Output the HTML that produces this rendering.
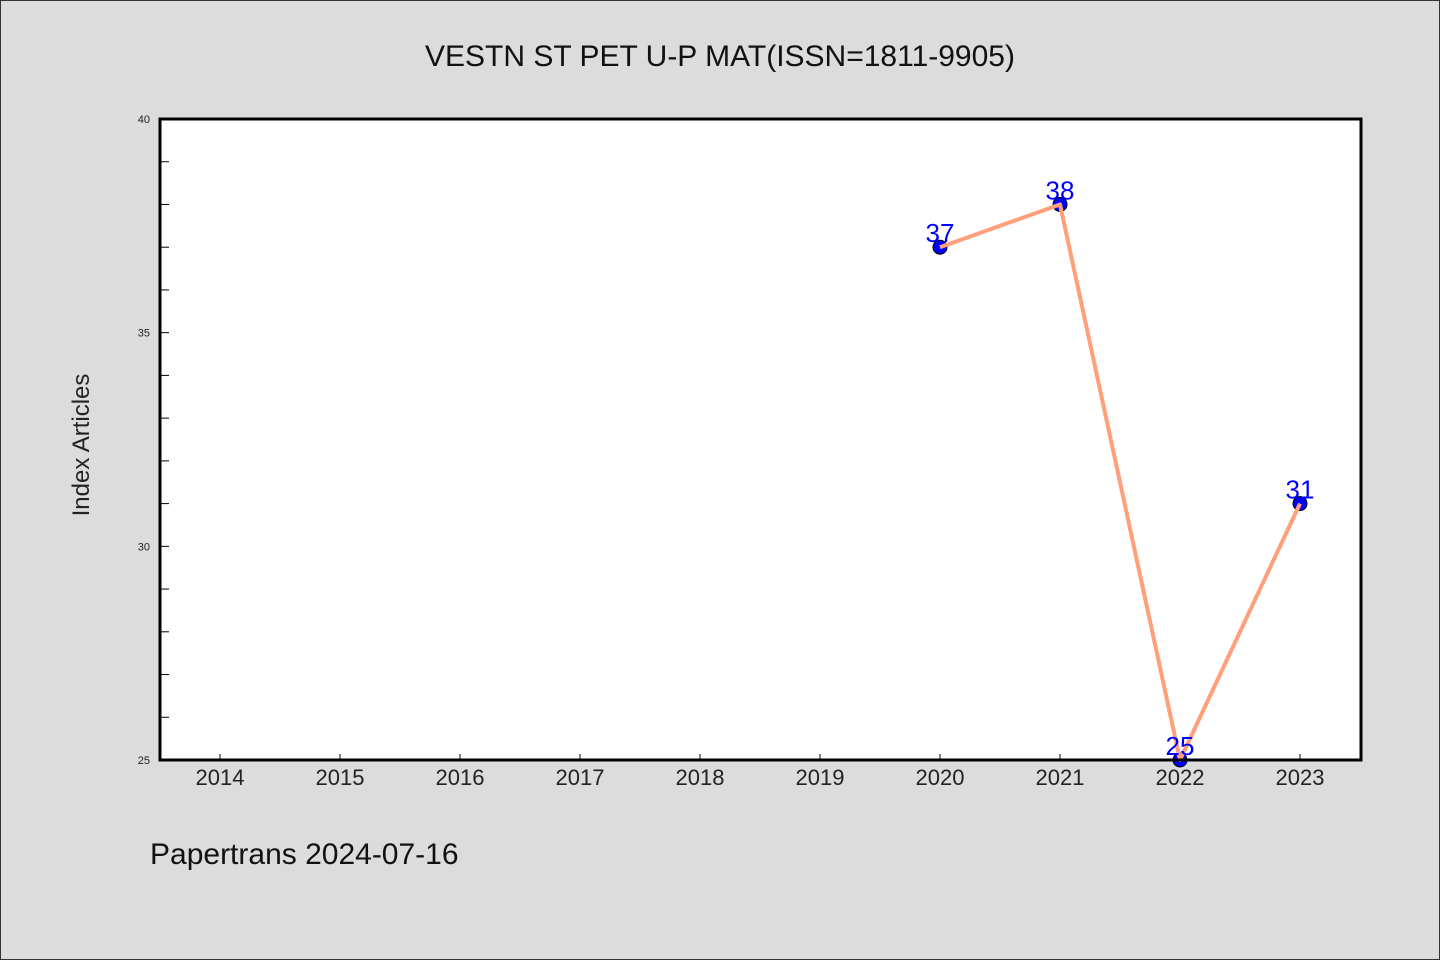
<!DOCTYPE html>
<html><head><meta charset="utf-8"><style>
body{margin:0;background:#dcdcdc;}
svg{display:block;font-family:"Liberation Sans","WenQuanYi Zen Hei",sans-serif;}
</style></head><body>
<svg id="chart" width="1440" height="960" viewBox="0 0 1440 960">
<rect x="0.5" y="0.5" width="1439" height="959" fill="#dcdcdc" stroke="#333"/>
<text x="720" y="66" font-size="30" text-anchor="middle" fill="#111" font-family="WenQuanYi Zen Hei, sans-serif">VESTN ST PET U-P MAT(ISSN=1811-9905)</text>
<rect x="160" y="119" width="1201" height="641" fill="#fff"/>
<g id="axes"></g>
<g id="marks"></g>
<rect x="160" y="119" width="1201" height="641" fill="none" stroke="#000" stroke-width="3"/>
<text transform="translate(89,445) rotate(-90)" font-size="24" text-anchor="middle" fill="#222" font-family="WenQuanYi Zen Hei, sans-serif">Index Articles</text>
<text x="150" y="864" font-size="30" fill="#111" font-family="WenQuanYi Zen Hei, sans-serif">Papertrans 2024-07-16</text>
</svg>
<script>
const years=[2014,2015,2016,2017,2018,2019,2020,2021,2022,2023];
const dataYears=[2020,2021,2022,2023];
const values=[37,38,25,31];
const yTicks=[25,30,35,40];
const NS="http://www.w3.org/2000/svg";
const xS=y=>220+(y-2014)*120;
const yS=v=>760-(v-25)*(641/15);
function mk(t,a,p){const e=document.createElementNS(NS,t);for(const k in a)e.setAttribute(k,a[k]);p.appendChild(e);return e;}
const ax=document.getElementById('axes'),mg=document.getElementById('marks');
years.forEach(y=>{
 const t=mk('line',{x1:xS(y),x2:xS(y),y1:760,y2:754,stroke:'#000','stroke-width':1},ax);
 
 
 const l=mk('text',{x:xS(y),y:785,'font-size':22,'text-anchor':'middle',fill:'#222','font-family':'WenQuanYi Zen Hei, sans-serif'},ax);
 l.textContent=y;
 
 
});
for(let v=26;v<40;v++){
 const t=mk('line',{x1:160,x2:169,y1:yS(v),y2:yS(v),stroke:'#000','stroke-width':1},ax);
 
 
}
yTicks.forEach(v=>{
 const l=mk('text',{x:150,y:yS(v)+4,'font-size':11,'text-anchor':'end',fill:'#222'},ax);
 l.textContent=v;
 
 
});
values.forEach((v,i)=>{
 const c=mk('circle',{cx:xS(dataYears[i]),cy:yS(v),r:7,fill:'#0000ff',stroke:'#000','stroke-width':1},mg);
 
 
});
const pts=values.map((v,i)=>xS(dataYears[i])+','+yS(v)).join(' ');
const pl=mk('polyline',{points:pts,fill:'none',stroke:'#ffa07a','stroke-width':4,'stroke-linejoin':'round'},mg);


values.forEach((v,i)=>{
 const l=mk('text',{x:xS(dataYears[i]),y:yS(v)-5,'font-size':26,'text-anchor':'middle',fill:'#0000ff'},mg);
 l.textContent=v;
 
 
});
</script>
</body></html>
